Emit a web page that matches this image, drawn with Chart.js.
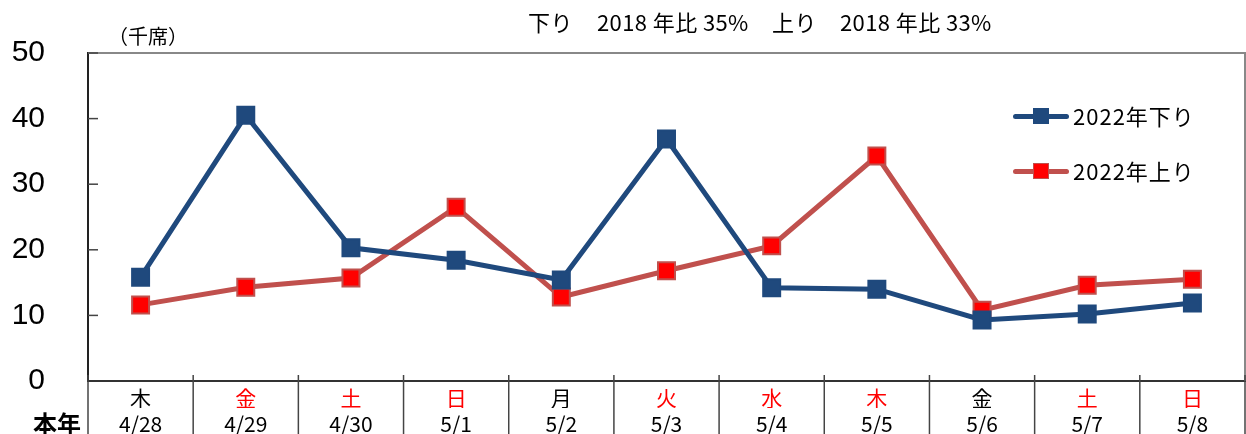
<!DOCTYPE html>
<html>
<head>
<meta charset="utf-8">
<script src="https://cdn.jsdelivr.net/npm/chart.js@4/dist/chart.umd.min.js"></script>
<style>
    html, body { margin: 0; padding: 0; background: #fff; }
    #wrap { position: relative; width: 1246px; height: 434px; overflow: hidden; }
    .txt { position: absolute; font-family: "Noto Sans CJK JP", sans-serif; color: #000; line-height: 1; white-space: pre; }
    .leg { position: absolute; left: 1013px; width: 56px; height: 0; }
    .leg .ln { position: absolute; left: 0; top: -2.5px; width: 56px; height: 5px; border-radius: 3px; }
    .leg .mk { position: absolute; left: 20px; top: -8px; width: 14px; height: 14px; }
</style>
</head>
<body>
<div id="wrap">
    <canvas id="myChart" width="1246" height="434"></canvas>
    <div class="txt" style="left:528px; top:10px; font-size:22px; letter-spacing:0.5px;">下り</div>
    <div class="txt" style="left:597px; top:10px; font-size:22px; letter-spacing:0.4px;">2018 年比 35%</div>
    <div class="txt" style="left:772px; top:10px; font-size:22px; letter-spacing:0.5px;">上り</div>
    <div class="txt" style="left:840px; top:10px; font-size:22px; letter-spacing:0.4px;">2018 年比 33%</div>
    <div class="txt" style="left:108px; top:26px; font-size:20px;">（千席）</div>
    <div class="txt" style="left:33px; top:411px; font-size:24px; font-weight:bold;">本年</div>

    <div class="leg" style="top:116px;"><div class="ln" style="background:#1F497D"></div><div class="mk" style="background:#1F497D; border:1px solid #1F497D"></div></div>
    <div class="txt" style="left:1073px; top:104px; font-size:22px; letter-spacing:1px;">2022年下り</div>
    <div class="leg" style="top:171px;"><div class="ln" style="background:#C0504D"></div><div class="mk" style="background:#FF0000; border:1px solid #C0504D"></div></div>
    <div class="txt" style="left:1073px; top:159px; font-size:22px; letter-spacing:1px;">2022年上り</div>
</div>
<script>
const days = ['木', '金', '土', '日', '月', '火', '水', '木', '金', '土', '日'];
const dayColors = ['#000', '#f00', '#f00', '#f00', '#000', '#f00', '#f00', '#f00', '#000', '#f00', '#f00'];
const dates = ['4/28', '4/29', '4/30', '5/1', '5/2', '5/3', '5/4', '5/5', '5/6', '5/7', '5/8'];
const down2022 = [15.8, 40.5, 20.3, 18.4, 15.4, 36.9, 14.2, 14.0, 9.3, 10.2, 11.9];
const up2022 = [11.6, 14.3, 15.7, 26.5, 12.8, 16.8, 20.6, 34.3, 10.8, 14.6, 15.5];
const yMin = 0;
const yMax = 50;
const yStep = 10;

// frame, inner tick marks and the table lines under the x axis
const framePlugin = {
    id: 'frame',
    beforeDatasetsDraw(chart) {
        const ctx = chart.ctx;
        const a = chart.chartArea;
        const x = chart.scales.x;
        const y = chart.scales.y;
        ctx.save();
        ctx.strokeStyle = '#888';
        ctx.lineWidth = 2;
        ctx.beginPath();
        ctx.moveTo(a.left, a.top);
        ctx.lineTo(a.right, a.top);
        ctx.lineTo(a.right, a.bottom);
        ctx.stroke();

        ctx.strokeStyle = '#444';
        ctx.lineWidth = 1.5;
        y.ticks.forEach((t) => {
            if (t.value === yMin) return;
            const py = y.getPixelForValue(t.value);
            ctx.beginPath();
            ctx.moveTo(a.left, py);
            ctx.lineTo(a.left + 10, py);
            ctx.stroke();
        });

        const half = (x.getPixelForValue(1) - x.getPixelForValue(0)) / 2;
        for (let i = 0; i <= dates.length; i++) {
            const px = i < dates.length ? x.getPixelForValue(i) - half : x.getPixelForValue(i - 1) + half;
            ctx.beginPath();
            ctx.moveTo(px, a.bottom - 6);
            ctx.lineTo(px, chart.height);
            ctx.stroke();
        }
        ctx.restore();
    }
};

// no extra side room for the x labels
const noSidePad = (s, h) => {
    s.height = h;
    s.paddingLeft = 0;
    s.paddingRight = 0;
};

const ctx = document.getElementById('myChart').getContext('2d');

new Chart(ctx, {
    type: 'line',
    data: {
        labels: dates,
        datasets: [
            {
                label: '2022年下り',
                data: down2022,
                borderColor: '#1F497D',
                backgroundColor: '#1F497D',
                borderWidth: 5,
                pointStyle: 'rect',
                pointRadius: 12,
                pointBorderWidth: 2,
                pointBorderColor: '#1F497D',
                pointBackgroundColor: '#1F497D',
                tension: 0
            },
            {
                label: '2022年上り',
                data: up2022,
                borderColor: '#C0504D',
                backgroundColor: '#FF0000',
                borderWidth: 5,
                pointStyle: 'rect',
                pointRadius: 12,
                pointBorderWidth: 2,
                pointBorderColor: '#C0504D',
                pointBackgroundColor: '#FF0000',
                tension: 0
            }
        ]
    },
    options: {
        responsive: false,
        animation: false,
        layout: {
            autoPadding: false,
            padding: { top: 53, right: 1, left: 0, bottom: 0 }
        },
        plugins: {
            legend: { display: false },
            title: { display: false },
            tooltip: { enabled: false }
        },
        scales: {
            x: {
                position: 'bottom',
                weight: 0,
                offset: true,
                grid: { display: false, drawOnChartArea: false, drawTicks: false },
                border: { display: true, color: '#333', width: 2 },
                ticks: {
                    autoSkip: false,
                    maxRotation: 0,
                    padding: 4,
                    color: (c) => dayColors[c.index],
                    font: { family: '"Noto Sans CJK JP"', size: 21 },
                    callback: (v, i) => days[i]
                },
                afterFit: (s) => noSidePad(s, 27)
            },
            x2: {
                type: 'category',
                labels: dates,
                position: 'bottom',
                weight: 1,
                offset: true,
                grid: { display: false, drawOnChartArea: false, drawTicks: false },
                border: { display: false },
                ticks: {
                    autoSkip: false,
                    maxRotation: 0,
                    padding: 3,
                    color: '#000',
                    font: { family: '"Noto Sans CJK JP"', size: 21 }
                },
                afterFit: (s) => noSidePad(s, 26)
            },
            y: {
                min: yMin,
                max: yMax,
                grid: { display: false, drawOnChartArea: false, drawTicks: false },
                border: { display: true, color: '#222', width: 2 },
                ticks: {
                    stepSize: yStep,
                    padding: 43,
                    color: '#000',
                    font: { family: '"Liberation Sans", Arial, sans-serif', size: 30 }
                },
                afterFit: (s) => {
                    s.width = 88;
                    // tick padding is horizontal only here, keep it out of the vertical room
                    s.paddingTop = 0;
                    s.paddingBottom = 0;
                }
            }
        }
    },
    plugins: [framePlugin]
});
</script>
</body>
</html>
